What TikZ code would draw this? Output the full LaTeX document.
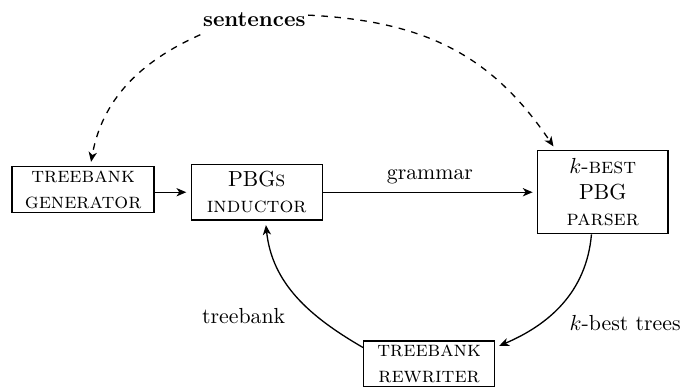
\documentclass[tikz,border=0pt]{standalone}
\usetikzlibrary{arrows.meta}
\tikzset{%
  >={Stealth[length=4.5pt,width=3.8pt,inset=1.3pt]}, % default arrow style
  every path/.style={semithick},
  module/.style={draw, semithick, align=center, inner sep=0pt},
  flow/.style={->, shorten >=2pt},
  feed/.style={->, dashed, shorten >=2pt}
}

\begin{document}
\begin{tikzpicture}
  \useasboundingbox (0,0) rectangle (11.03,6.24);
  % modules
  \node[module, minimum width=2.29cm, minimum height=0.74cm] (gen) at (1.34,3.18) {\textsc{treebank}\\\textsc{generator}};
  \node[module, minimum width=2.11cm, minimum height=0.90cm] (ind) at (4.14,3.14) {PBG\textsc{s}\\\textsc{inductor}};
  \node[module, minimum width=2.10cm, minimum height=1.34cm] (par) at (9.72,3.14) {$k$-\textsc{best}\\PBG\\\textsc{parser}};
  \node[module, minimum width=2.11cm, minimum height=0.74cm] (rw) at (6.92,0.37) {\textsc{treebank}\\\textsc{rewriter}};
  % input
  \node[inner xsep=1pt] (sent) at (4.10,5.92) {\textbf{sentences}};
  % labels
  \node (tb) at (3.93,1.15) {treebank};
  \node (kbt) at (10.08,1.03) {$k$-best trees};
  % arrows
  \draw[flow] (gen.east |- ind) -- (ind);
  \draw[flow] (ind) -- node[above] {grammar} (par);
  \draw[flow] (par.-105) to[out=-95, in=23] (rw.14);
  \draw[flow] (rw.166) to[out=150, in=-84] (ind.-73);
  % sentences
  \draw[feed] (sent.south west) to[out=204, in=80] (gen.73);
  \draw[feed] (sent.5) to[out=-3, in=124, looseness=1.05] (par.138);
\end{tikzpicture}
\end{document}
